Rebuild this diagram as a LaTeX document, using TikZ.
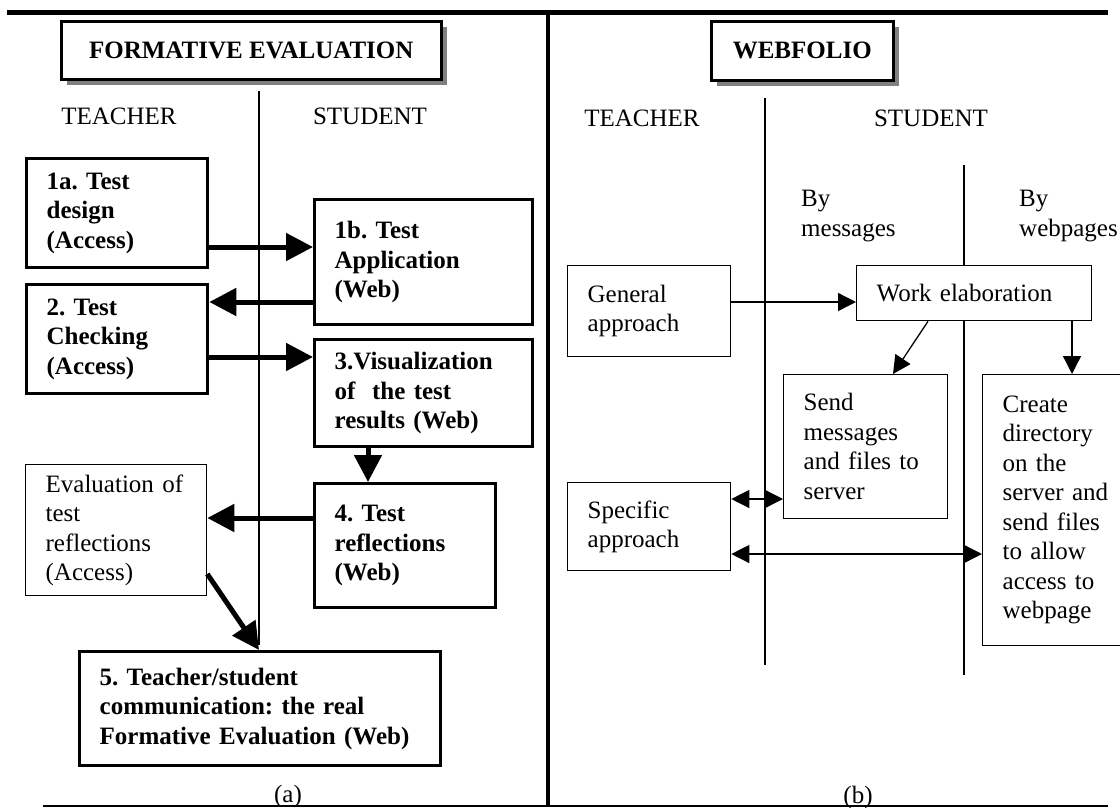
\documentclass[tikz,border=0pt]{standalone}
\usepackage{fontspec}
\setmainfont{Liberation Serif}
\usetikzlibrary{arrows.meta,shadows,positioning,calc}
\frenchspacing

\begin{document}
\begin{tikzpicture}[x=1pt,y=-1pt,font=\fontsize{25}{29.5}\selectfont]
	\tikzset{
		boldbox/.style={draw,line width=3.3pt,align=left,inner xsep=20pt,inner ysep=0pt,anchor=north west,font=\fontsize{25}{29.5}\selectfont\bfseries},
		thinbox/.style={draw,line width=1.3pt,fill=white,align=left,inner xsep=20pt,inner ysep=0pt,anchor=north west},
		titlebox/.style={draw,line width=2.5pt,fill=white,anchor=north west,font=\fontsize{25}{29.5}\selectfont\bfseries,
			drop shadow={shadow xshift=6pt,shadow yshift=-6pt,fill=black!50,opacity=1}},
		bigarrow/.style={line width=5pt,-{Triangle[length=27pt,width=27pt]}},
		thinarrow/.style={line width=1.3pt,-{Triangle[length=18pt,width=18pt]}},
		dblarrow/.style={line width=1.3pt,{Triangle[length=18pt,width=18pt]}-{Triangle[length=18pt,width=18pt]}},
		divline/.style={line width=1.3pt}
	}
	\useasboundingbox (0,0) rectangle (1120,807);
	%% frame
	\draw[line width=5pt] (7,12.5) -- (1108,12.5);
	\draw[line width=4.7pt] (548,12.5) -- (548,807);
	\draw[line width=1.3pt] (43,806) -- (1108,806);
	%% titles
	\node[titlebox,minimum width=380pt,minimum height=58pt] (fe) at (60,20) {FORMATIVE EVALUATION};
	\node[titlebox,minimum width=182pt,minimum height=59pt] (wf) at (710,20) {WEBFOLIO};
	\node (teachA) at (119,116) {TEACHER};
	\node (studA) at (370,116) {STUDENT};
	\node (teachB) at (642,118) {TEACHER};
	\node (studB) at (931,118) {STUDENT};
	\node[align=left,anchor=north west,inner sep=0pt] (bymsg) at (801,190) {By\\messages};
	\node[align=left,anchor=north west,inner sep=0pt] (byweb) at (1019,190) {By\\webpages};
	%% dividers
	\draw[divline] (259,91) -- (259,645);
	\draw[divline] (765,98) -- (765,665);
	\draw[divline] (964,165) -- (964,675);
	%% (a) formative evaluation
	\node[boldbox,text width=141pt,minimum height=109pt] (tdesign) at (25,157) {1a. Test\\design\\(Access)};
	\node[boldbox,text width=178pt,minimum height=125pt] (tapp) at (313,198) {1b. Test\\Application\\(Web)};
	\node[boldbox,text width=141pt,minimum height=109pt] (tcheck) at (25,283) {2. Test\\Checking\\(Access)};
	\node[boldbox,text width=178pt,minimum height=107pt] (tvis) at (313,338) {3.Visualization\\of \ the test\\results (Web)};
	\node[boldbox,text width=141pt,minimum height=124pt] (trefl) at (313,482) {4. Test\\reflections\\(Web)};
	\node[thinbox,text width=141pt,minimum height=131pt] (evrefl) at (25,464) {Evaluation of\\test\\reflections\\(Access)};
	\node[boldbox,text width=321pt,minimum height=114pt] (tcomm) at (78,650) {5. Teacher/student\\communication: the real\\Formative Evaluation (Web)};
	%%
	\draw[bigarrow] (tdesign.east |- 0,247) -- (tapp.west |- 0,247);
	\draw[bigarrow] (tapp.west |- 0,302) -- (tcheck.east |- 0,302);
	\draw[bigarrow] (tcheck.east |- 0,357) -- (tvis.west |- 0,357);
	\draw[bigarrow] (tvis.south -| 368,0) -- (trefl.north -| 368,0);
	\draw[bigarrow] (trefl.west |- 0,518) -- (evrefl.east |- 0,518);
	\draw[bigarrow] (evrefl.east |- 0,574) -- (tcomm.north -| 259,0);
	%% (b) webfolio
	\node[thinbox,text width=123pt,minimum height=91pt] (genapp) at (567,265) {General\\approach};
	\node[thinbox,text width=195pt,minimum height=55pt] (workel) at (856,265) {Work elaboration};
	\node[thinbox,text width=124pt,minimum height=144pt] (sendmsg) at (783,374) {Send\\messages\\and files to\\server};
	\node[thinbox,text width=140pt,minimum height=271pt] (creadir) at (982,374) {Create\\directory\\on the\\server and\\send files\\to allow\\access to\\webpage};
	\node[thinbox,text width=123pt,minimum height=88pt] (specapp) at (567,482) {Specific\\approach};
	%%
	\draw[thinarrow] (genapp.east |- 0,302) -- (workel.west |- 0,302);
	\draw[thinarrow] (workel.south -| 928,0) -- (sendmsg.north -| 893,0);
	\draw[thinarrow] (workel.south -| 1072,0) -- (creadir.north -| 1072,0);
	\draw[dblarrow] (specapp.east |- 0,499) -- (sendmsg.west |- 0,499);
	\draw[dblarrow] (specapp.east |- 0,554) -- (creadir.west |- 0,554);
	%% captions
	\node (capa) at (288,796) {(a)};
	\node (capb) at (858,797) {(b)};
\end{tikzpicture}
\end{document}
